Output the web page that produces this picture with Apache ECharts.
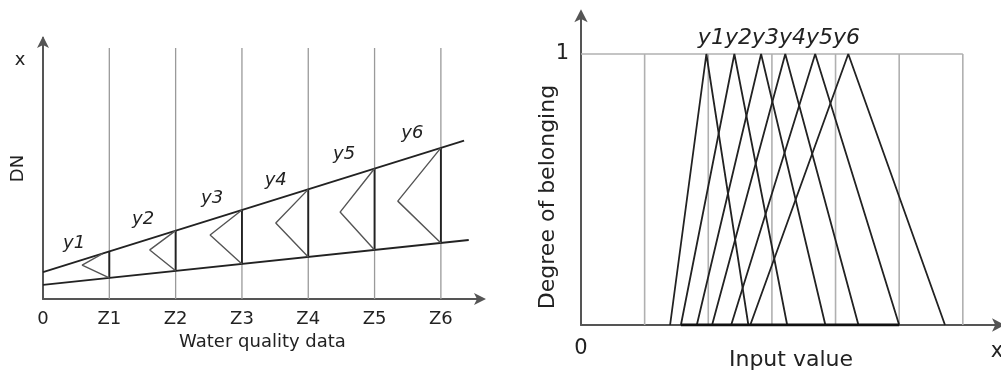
<!DOCTYPE html>
<html><head><meta charset="utf-8">
<script src="https://cdn.jsdelivr.net/npm/echarts@6/dist/echarts.min.js"></script>
<style>html,body{margin:0;padding:0;background:#fff}#c{width:1001px;height:385px}</style>
</head><body><div id="c"></div>
<script>
// ---------- Left panel data ----------
const zTickLabels = ['0','Z1','Z2','Z3','Z4','Z5','Z6'];
const zPositions = [1,2,3,4,5,6];
const upperLine = [[0,10.3],[6.35,60.7]];
const lowerLine = [[0,5.4],[6.42,22.6]];
const upperAtZ = [18.2,26.2,34.1,42.0,50.0,57.9];
const lowerAtZ = [8.1,10.8,13.4,16.1,18.8,21.5];
const chevronTopX = [0.9,2,3,4,5,6];
const chevronTopY = [17.4,26.2,34.1,42.0,50.0,57.9];
const chevronTips = [[0.59,13.0],[1.61,18.8],[2.52,24.5],[3.51,29.1],[4.48,33.3],[5.35,37.5]];
const classNames = ['y1','y2','y3','y4','y5','y6'];
const classLabelPos = [[0.47,21.5],[1.51,30.7],[2.55,38.7],[3.51,45.6],[4.54,55.6],[5.57,63.6]];
const zLineTop = 96.2;
// ---------- Right panel data ----------
const peaks = [1.97,2.41,2.83,3.21,3.68,4.20];
const leftFeet = [1.40,1.57,1.82,2.06,2.36,2.66];
const rightFeet = [2.63,3.24,3.84,4.36,5.00,5.72];
const inputGridX = [1,2,3,4,5,6];
const baseSegment = [1.57,5.00];
const headerText = 'y1y2y3y4y5y6';
const headerPos = [3.11,1.059];

const DARK = '#222', GRAY = '#9a9a9a', AXIS = '#555', TXT = '#222';
const FONT = 'DejaVu Sans';

const series = [];
function line(data, xi, color, width, z) {
  series.push({type:'line', xAxisIndex:xi, yAxisIndex:xi, data, symbol:'none', silent:true,
    lineStyle:{color, width}, z: z||2, animation:false});
}
// Left: gray verticals
zPositions.forEach(z => line([[z,0],[z,zLineTop]], 0, GRAY, 1.3, 1));
// Left: boundary lines
line(upperLine, 0, DARK, 1.8, 3);
line(lowerLine, 0, DARK, 1.8, 3);
// Left: dark vertical segments and chevrons
zPositions.forEach((z,i) => {
  line([[z,lowerAtZ[i]],[z,upperAtZ[i]]], 0, DARK, 1.9, 3);
  line([[chevronTopX[i],chevronTopY[i]], chevronTips[i], [z,lowerAtZ[i]]], 0, '#555', 1.4, 3);
});
// Left: class labels
series.push({type:'scatter', xAxisIndex:0, yAxisIndex:0, symbolSize:0, silent:true, animation:false,
  itemStyle:{opacity:1},
  data: classNames.map((n,i)=>({name:n, value:classLabelPos[i]})),
  label:{show:true, position:'inside', opacity:1, formatter:p=>p.name, fontFamily:FONT, fontSize:18, fontStyle:'italic', color:TXT}});

// Right: gray grid
inputGridX.forEach(x => line([[x,0],[x,1]], 1, '#b0b0b0', 1.6, 1));
line([[0,1],[inputGridX[inputGridX.length-1],1]], 1, '#b0b0b0', 1.6, 1);
// Right: triangles
peaks.forEach((p,i) => line([[leftFeet[i],0],[p,1],[rightFeet[i],0]], 1, DARK, 1.8, 3));
line([[baseSegment[0],0],[baseSegment[1],0]], 1, '#111', 3, 4);
series.push({type:'scatter', xAxisIndex:1, yAxisIndex:1, symbolSize:0, silent:true, animation:false,
  itemStyle:{opacity:1},
  data:[{name:headerText, value:headerPos}],
  label:{show:true, position:'inside', opacity:1, formatter:p=>p.name, fontFamily:FONT, fontSize:22, fontStyle:'italic', color:TXT}});

const option = {
  backgroundColor:'#fff',
  animation:false,
  grid:[
    {left:43, top:38, width:439, height:261, outerBoundsMode:'none', containLabel:false},
    {left:581, top:13.35, width:420, height:311.65, outerBoundsMode:'none', containLabel:false}
  ],
  xAxis:[
    {type:'value', gridIndex:0, min:0, max:6.62, interval:1,
     axisLine:{show:true, lineStyle:{color:AXIS, width:2}, symbol:['none','arrow'], symbolSize:[9,12], symbolOffset:[0,4]},
     axisTick:{show:false}, splitLine:{show:false},
     axisLabel:{formatter:v => (Number.isInteger(v) && zTickLabels[v]!==undefined) ? zTickLabels[v] : '', fontFamily:FONT, fontSize:18, color:TXT, margin:11},
     name:'Water quality data', nameLocation:'middle', nameGap:34, nameMoveOverlap:false,
     nameTextStyle:{fontFamily:FONT, fontSize:18, color:TXT}},
    {type:'value', gridIndex:1, min:0, max:6.6, interval:1,
     axisLine:{show:true, lineStyle:{color:AXIS, width:2}, symbol:['none','arrow'], symbolSize:[10,13], symbolOffset:[0,4]},
     axisTick:{show:false}, splitLine:{show:false},
     axisLabel:{formatter:v => v===0 ? '0' : '', fontFamily:FONT, fontSize:21, color:TXT, margin:13},
     name:'Input value', nameLocation:'middle', nameGap:24, nameMoveOverlap:false,
     nameTextStyle:{fontFamily:FONT, fontSize:22, color:TXT}}
  ],
  yAxis:[
    {type:'value', gridIndex:0, min:0, max:100, interval:50,
     axisLine:{show:true, lineStyle:{color:AXIS, width:2}, symbol:['none','arrow'], symbolSize:[9,12], symbolOffset:[0,2]},
     axisTick:{show:false}, splitLine:{show:false}, axisLabel:{show:false},
     name:'DN', nameLocation:'middle', nameGap:16, nameMoveOverlap:false,
     nameTextStyle:{fontFamily:FONT, fontSize:18, color:TXT}},
    {type:'value', gridIndex:1, min:0, max:1.15, interval:1,
     axisLine:{show:true, lineStyle:{color:AXIS, width:2}, symbol:['none','arrow'], symbolSize:[10,13], symbolOffset:[0,4]},
     axisTick:{show:false}, splitLine:{show:false},
     axisLabel:{formatter:v => v===1 ? '1' : '', fontFamily:FONT, fontSize:21, color:TXT, margin:12},
     name:'', nameLocation:'middle'}
  ],
  graphic:[
    {type:'text', x:20, y:60, style:{text:'x', font:'18px "DejaVu Sans"', fill:TXT, textAlign:'center', textVerticalAlign:'middle'}},
    {type:'text', x:997, y:352, style:{text:'x', font:'21px "DejaVu Sans"', fill:TXT, textAlign:'center', textVerticalAlign:'middle'}},
    {type:'text', x:548, y:197, rotation:Math.PI/2, style:{text:'Degree of belonging', font:'22px "DejaVu Sans"', fill:TXT, textAlign:'center', textVerticalAlign:'middle'}}
  ],
  series
};
const chart = echarts.init(document.getElementById('c'), null, {renderer:'canvas'});
chart.setOption(option);
</script>
</body></html>
